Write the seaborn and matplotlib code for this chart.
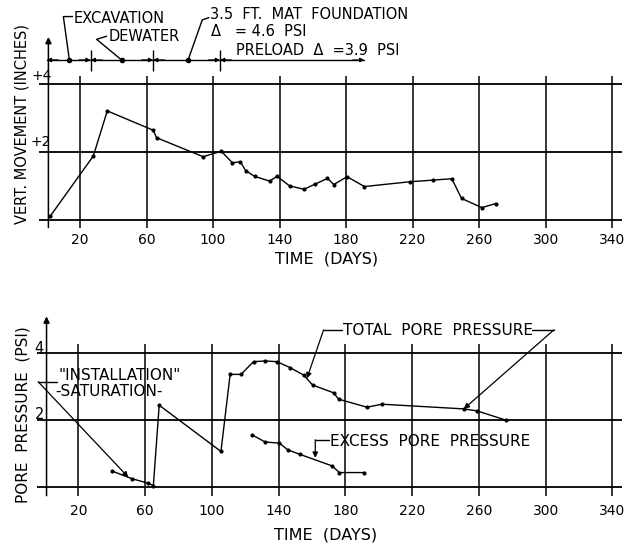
import matplotlib
matplotlib.use('Agg')
import matplotlib.pyplot as plt
import seaborn as sns

# vertical movement of the mat (inches) against time (days)
move_days = [2, 28, 36.4, 64, 66, 94, 105, 111.6, 116.4, 119.6, 125, 134, 138.5, 146,
             154.7, 161.3, 168.8, 172.6, 180.6, 191, 218.2, 232.2, 243.6, 249.4, 261.6, 270.2]
move_in = [0.11, 1.89, 3.22, 2.65, 2.43, 1.87, 2.03, 1.69, 1.72, 1.46, 1.29, 1.15, 1.29, 1.01,
           0.91, 1.06, 1.23, 1.05, 1.28, 0.99, 1.13, 1.18, 1.22, 0.64, 0.37, 0.49]

# pore pressure (psi) against time (days)
total_days = [40, 52, 62, 65, 68.5, 105.5, 111, 117.5, 125, 132, 139, 147, 155, 160.5,
              173, 176, 193, 202, 251, 259, 276.5]
total_psi = [0.49, 0.26, 0.12, 0.05, 2.45, 1.07, 3.37, 3.37, 3.75, 3.77, 3.75, 3.57, 3.35, 3.05,
             2.82, 2.63, 2.39, 2.48, 2.34, 2.28, 2.0]

excess_days = [124, 132, 140.5, 145.5, 153, 172, 176.5, 191.5]
excess_psi = [1.57, 1.35, 1.32, 1.12, 0.98, 0.64, 0.44, 0.44]

grid_days = [20, 60, 100, 140, 180, 220, 260, 300, 340]
tick_labels = ['20', '60', '100', '140', '180', '220', '260', '300', '340']

# construction stages on the timeline above the top chart
stage_days = [26.4, 64, 104.2]
stage_end = 191
bar_level = 4.72

sns.set_style('white')
plt.rcParams['font.family'] = ['DejaVu Sans']
plt.rcParams['text.color'] = 'k'
plt.rcParams['xtick.color'] = 'k'
plt.rcParams['xtick.labelcolor'] = 'k'

fig = plt.figure(figsize=(6.42, 5.43), dpi=100)
ax1 = fig.add_axes([0.0469, 0.5746, 0.9455, 0.4199])
ax2 = fig.add_axes([0.0439, 0.0748, 0.9489, 0.361])

arrow_kw = dict(arrowstyle='-|>', color='k', lw=0.9, mutation_scale=8, shrinkA=0, shrinkB=0)


def frame(ax, ylo, yhi, levels, vbot, vtop, spine_top, xstart):
    ax.set_xlim(-10, 355)
    ax.set_ylim(ylo, yhi)
    for s in ax.spines.values():
        s.set_visible(False)
    ax.hlines(levels, xstart, 346, color='k', lw=1.3)
    ax.vlines(grid_days, vbot, vtop, color='k', lw=1.1)
    ax.annotate('', xy=(1, spine_top), xytext=(1, vbot),
                arrowprops=dict(arrow_kw, lw=1.1, mutation_scale=9))
    ax.set_xticks(grid_days)
    ax.set_xticklabels(tick_labels)
    ax.tick_params(axis='x', length=0, pad=1.5, labelsize=10, labelcolor='k')
    ax.set_yticks([])
    ax.set_xlabel('')
    ax.set_ylabel('')


# ---- top: vertical movement ----
frame(ax1, -0.32, 6.4, [0, 2, 4], -0.22, 4.25, 5.4, -4.4)
sns.lineplot(x=move_days, y=move_in, ax=ax1, color='k', lw=1.0, marker='o', markersize=3,
             markeredgewidth=0, estimator=None, sort=False)
ax1.set_xlim(-10, 355)
ax1.set_ylim(-0.32, 6.4)
ax1.text(-2.9, 4.25, '+4', ha='center', va='center', fontsize=10)
ax1.text(-3.7, 2.3, '+2', ha='center', va='center', fontsize=10)
ax1.text(168.5, -1.15, 'TIME  (DAYS)', ha='center', va='center', fontsize=11.5, clip_on=False)

# construction timeline
ax1.plot([0, stage_end], [bar_level, bar_level], color='k', lw=1.0)
ax1.vlines(stage_days, 4.4, 5.0, color='k', lw=1.0)
for t in [0] + stage_days:
    ax1.annotate('', xy=(t, bar_level), xytext=(t + 7, bar_level), arrowprops=dict(arrow_kw, mutation_scale=6))
for t in stage_days + [stage_end]:
    ax1.annotate('', xy=(t, bar_level), xytext=(t - 7, bar_level), arrowprops=dict(arrow_kw, mutation_scale=6))

top_leaders = [[(15.5, 6.0), (10, 6.0), (13.6, bar_level)],
               [(36, 5.42), (30, 5.33), (45, bar_level)],
               [(97.5, 5.97), (93.5, 5.9), (85, bar_level)]]
for pts in top_leaders:
    ax1.plot([p[0] for p in pts], [p[1] for p in pts], color='k', lw=1.0, clip_on=False)
    ax1.plot(pts[-1][0], pts[-1][1], 'o', color='k', ms=3)

ax1.text(16.4, 5.93, 'EXCAVATION', ha='left', va='center', fontsize=10.5)
ax1.text(37, 5.4, 'DEWATER', ha='left', va='center', fontsize=10.5)
ax1.text(98, 6.05, '3.5  FT.  MAT  FOUNDATION', ha='left', va='center', fontsize=10.5)
ax1.text(99, 5.55, '\u0394   = 4.6  PSI', ha='left', va='center', fontsize=10.5)
ax1.text(114, 4.78, 'PRELOAD  \u0394  =3.9  PSI', ha='left', va='bottom', fontsize=10.5)

# ---- bottom: pore pressure ----
frame(ax2, -0.45, 5.4, [0, 2, 4], -0.25, 4.27, 5.1, -5)
sns.lineplot(x=total_days, y=total_psi, ax=ax2, color='k', lw=1.0, marker='o', markersize=3,
             markeredgewidth=0, estimator=None, sort=False)
sns.lineplot(x=excess_days, y=excess_psi, ax=ax2, color='k', lw=1.0, marker='o', markersize=3,
             markeredgewidth=0, estimator=None, sort=False)
ax2.set_xlim(-10, 355)
ax2.set_ylim(-0.45, 5.4)
ax2.text(-3.3, 4.15, '4', ha='center', va='center', fontsize=10.5)
ax2.text(-3.3, 2.16, '2', ha='center', va='center', fontsize=10.5)
ax2.text(168, -1.42, 'TIME  (DAYS)', ha='center', va='center', fontsize=11.5, clip_on=False)

bottom_leaders = [[(7, 3.15), (-4, 3.15), (50, 0.3)],
                  [(178, 4.7), (167, 4.7), (157, 3.25)],
                  [(292, 4.7), (305, 4.7), (251, 2.34)],
                  [(170, 1.42), (162, 1.42), (162, 0.88)]]
for pts in bottom_leaders:
    ax2.plot([p[0] for p in pts[:2]], [p[1] for p in pts[:2]], color='k', lw=1.0, clip_on=False)
    ax2.annotate('', xy=pts[2], xytext=pts[1], arrowprops=arrow_kw)

ax2.text(178.5, 4.67, 'TOTAL  PORE  PRESSURE', ha='left', va='center', fontsize=11)
ax2.text(171, 1.38, 'EXCESS  PORE  PRESSURE', ha='left', va='center', fontsize=11)
ax2.text(8, 3.35, '"INSTALLATION"', ha='left', va='center', fontsize=11)
ax2.text(6, 2.85, '-SATURATION-', ha='left', va='center', fontsize=11)

fig.text(22 / 642, 1 - 124 / 543, 'VERT. MOVEMENT (INCHES)', rotation=90, ha='center', va='center', fontsize=10.5)
fig.text(23 / 642, 1 - 415 / 543, 'PORE  PRESSURE  (PSI)', rotation=90, ha='center', va='center', fontsize=11)

fig.savefig('out.png', dpi=100)
